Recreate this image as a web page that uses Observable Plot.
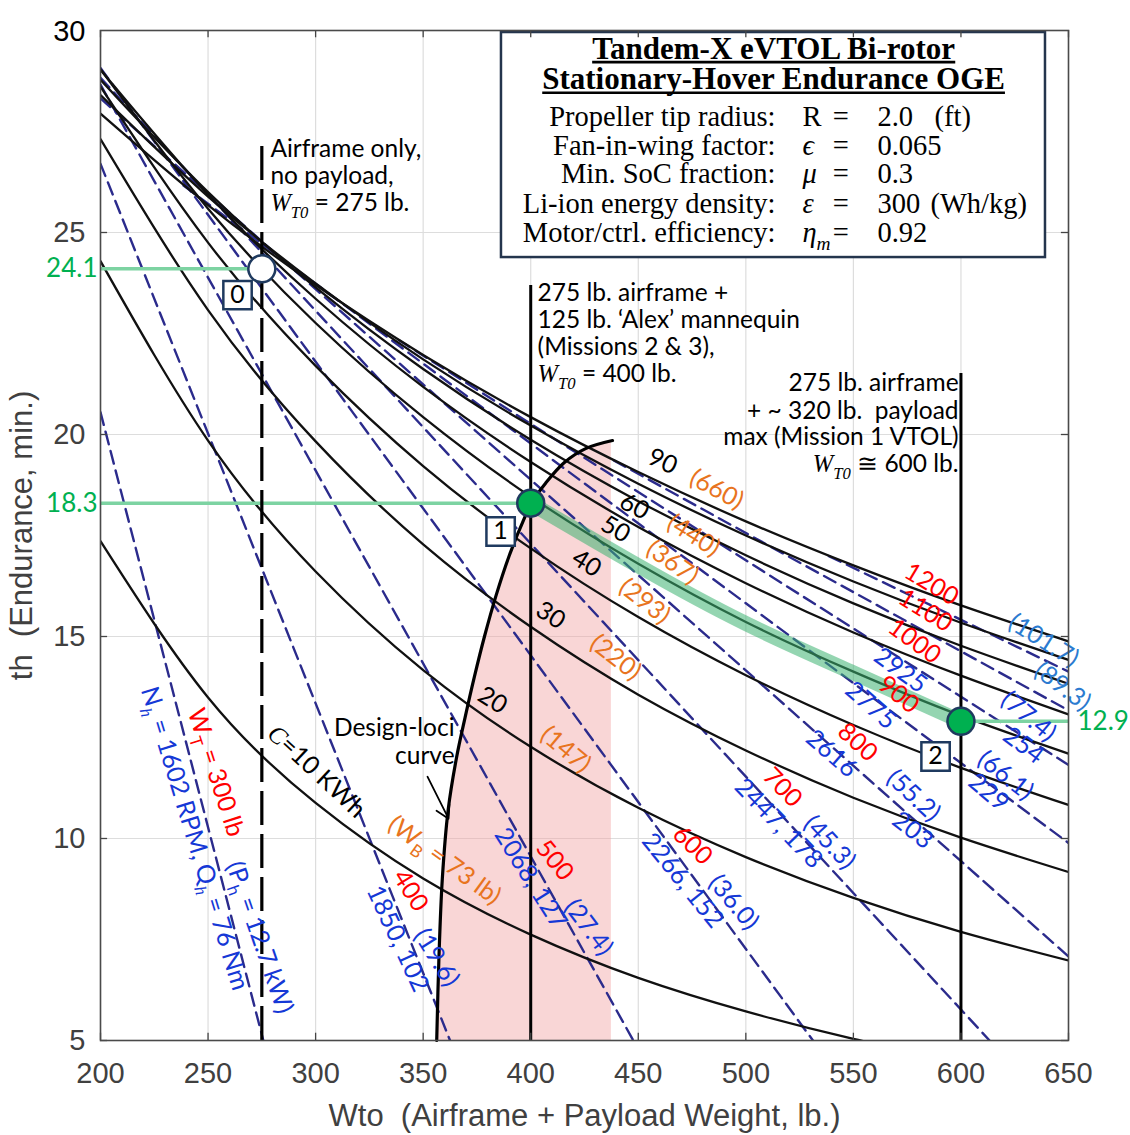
<!DOCTYPE html>
<html><head><meta charset="utf-8">
<script src="https://cdn.jsdelivr.net/npm/d3@7"></script>
<script src="https://cdn.jsdelivr.net/npm/@observablehq/plot@0.6"></script>
<style>
body{margin:0;background:#fff}
</style></head><body><div id="chart"></div>
<script>
// ---------------- DATA ----------------
const xTicks = [200,250,300,350,400,450,500,550,600,650];
const yTicks = [5,10,15,20,25];
const xGrid = [200,250,300,350,400,450,500,550,600,650];
// battery capacity curves (kWh) and battery weight (lb)
const capacityKWh = [10,20,30,40,50,60,70,80,90];
const batteryLb = [73,147,220,293,367,440,514,588,660];
const enduranceByC = [
  [17.36,13.49,10.88, 9.01, 7.62, 6.55, 5.72, 5.04, 4.49, 4.03],
  [24.29,19.85,16.61,14.17,12.27,10.76, 9.54, 8.53, 7.69, 6.98],
  [27.31,23.08,19.83,17.28,15.24,13.56,12.18,11.01,10.02, 9.17],
  [28.61,24.75,21.70,19.22,17.18,15.48,14.04,12.81,11.75,10.83],
  [29.04,25.59,22.76,20.43,18.46,16.80,15.36,14.13,13.04,12.10],
  [29.03,25.94,23.36,21.18,19.32,17.71,16.32,15.10,14.03,13.07],
  [28.78,26.00,23.64,21.62,19.87,18.35,17.01,15.82,14.77,13.83],
  [28.40,25.89,23.74,21.86,20.22,18.78,17.50,16.36,15.34,14.42],
  [27.94,25.68,23.70,21.97,20.43,19.07,17.85,16.76,15.77,14.88]
];
// constant total-weight lines (lb)
const wtValues = [300,400,500,600,700,800,900,1000,1100,1200];
const wtStartX = [200,200,200,200,200,200,238.6,338.6,438.6,538.6];
const wtStartT = [20.55,26.70,28.66,29.07,28.83,28.32,26.16,22.34,19.36,16.99];
const wtEndX   = [275.7,362.5,447.7,531.2,613.3,650,650,650,650,650];
const wtEndT   = [5,5,5,5,5,7.08,9.89,11.82,13.17,14.13];
const wtRpm    = [1602,1850,2068,2266,2447,2616,2775,2925,null,null];
const wtTorque = [76,102,127,152,178,203,229,254,null,null];
const wtPowerKW = [12.7,19.6,27.4,36.0,45.3,55.2,66.1,77.4,89.3,101.7];
// design points
const designW = [275,400,600];
const designT = [24.1,18.3,12.9];
// design-loci curve
const lociT = [5,7,9,10.7,12,13,14,15,16,17,18,18.3,18.8,19.3,19.65,19.85];
const lociX = [356.3,357.3,358.9,361.6,365.5,369.5,373.8,378.5,383.8,390,397.6,400.3,407,415.5,425.5,438];
const lociRightX = 437.5;
// highlighted 50 kWh segment between design points 1 and 2
const bandX = [400,450,500,550,600];
const bandT = [18.3,16.75,15.32,14.1,12.9];
// title box content
const titleLines = ["Tandem-X eVTOL Bi-rotor","Stationary-Hover Endurance OGE"];
const paramLabels = ["Propeller tip radius:","Fan-in-wing factor:","Min. SoC fraction:","Li-ion energy density:","Motor/ctrl. efficiency:"];
const paramSymbols = ["R","*ϵ*","*μ*","*ε*","*η*_[m]"];
const paramValues = ["2.0","0.065","0.3","300","0.92"];
const paramUnits = ["(ft)","","","(Wh/kg)",""];

// ---------------- LAYOUT (annotation placement) ----------------
const cLabelLayout = {
  90:{num:[461.3,19.33,25], wt:[486.4,18.64,28]},
  60:{num:[448.2,18.22,28], wt:[475.7,17.50,32]},
  50:{num:[439.4,17.65,30], wt:[465.9,16.83,35]},
  40:{num:[425.9,16.81,32], wt:[452.9,15.87,38]},
  30:{num:[409.2,15.52,33], wt:[439.4,14.48,38]},
  20:{num:[382.2,13.42,32], wt:[416.2,12.20,40]},
  10:{num:[300.4,11.66,43], wt:[359.9,9.46,36]}
};
const wtLabelLayout = {
  300:{red:[253.5,11.63,72], pw:[273.9,7.55,71], rpm:[243.7,10.0,73]},
  400:{red:[344.1,8.71,58], pw:[356.2,7.05,58], rpm:[338.1,7.52,65]},
  500:{red:[411.1,9.46,51], pw:[426.9,7.80,53], rpm:[399.9,9.01,58]},
  600:{red:[475.2,9.83,44], pw:[494.3,8.42,50], rpm:[470.6,8.96,51]},
  700:{red:[517.0,11.26,46], pw:[538.9,9.90,47], rpm:[515.2,10.37,46]},
  800:{red:[551.9,12.38,42], pw:[577.9,11.06,43], rpm:[539.8,12.10,41], tq:[577.5,10.20,38]},
  900:{red:[571.0,13.56,39], pw:[620.7,11.56,38], rpm:[558.0,13.29,41], tq:[612.8,11.14,40]},
  1000:{red:[578.4,14.88,36], pw:[631.4,13.02,40], rpm:[571.9,14.16,36], tq:[629.1,12.30,37]},
  1100:{red:[583.5,15.64,32], pw:[647.2,13.76,37]},
  1200:{red:[586.3,16.29,31], pw:[638.4,14.90,32]}
};
const RED="#ff0000", BLUE="#1538d6", LBLUE="#2b7bd0", ORANGE="#e8741e", GREEN="#00b050", NAVY="#1f3a5f";

// ---------------- BUILD ROWS ----------------
const cRows = capacityKWh.flatMap((c,i)=>xGrid.map((x,j)=>({C:c,x,t:enduranceByC[i][j]})));
const wtRows = wtValues.flatMap((w,i)=>[{W:w,x:wtStartX[i],t:wtStartT[i]},{W:w,x:wtEndX[i],t:wtEndT[i]}]);
const lociRows = lociT.map((t,i)=>({t,x:lociX[i]}));
const bandRows = bandX.map((x,i)=>({x,t:bandT[i]}));
const pts = designW.map((w,i)=>({i,x:w,t:designT[i]}));

const labels = [];
capacityKWh.forEach((c,i)=>{
  const L = cLabelLayout[c]; if(!L) return;
  labels.push({text: c===10 ? "*C*=10 KWh" : String(c), x:L.num[0], y:L.num[1], rot:L.num[2], color:"black"});
  labels.push({text: c===10 ? `(W_{B} = ${batteryLb[i]} lb)` : `(${batteryLb[i]})`, x:L.wt[0], y:L.wt[1], rot:L.wt[2], color:ORANGE});
});
wtValues.forEach((w,i)=>{
  const L = wtLabelLayout[w];
  labels.push({text: w===300 ? `W_{T} = ${w} lb` : String(w), x:L.red[0], y:L.red[1], rot:L.red[2], color:RED});
  labels.push({text: w===300 ? `(P_{h} = ${wtPowerKW[i].toFixed(1)} kW)` : `(${wtPowerKW[i].toFixed(1)})`, x:L.pw[0], y:L.pw[1], rot:L.pw[2], color: w>=1100 ? LBLUE : BLUE});
  if (L.rpm) {
    let t;
    if (w===300) t = `N_[h] = ${wtRpm[i]} RPM, Q_[h] = ${wtTorque[i]} Nm`;
    else if (L.tq) t = String(wtRpm[i]);
    else t = `${wtRpm[i]}, ${wtTorque[i]}`;
    labels.push({text:t, x:L.rpm[0], y:L.rpm[1], rot:L.rpm[2], color:BLUE});
  }
  if (L.tq) labels.push({text:String(wtTorque[i]), x:L.tq[0], y:L.tq[1], rot:L.tq[2], color:BLUE});
});

const blockA = ["Airframe only,","no payload,",`*W*_[T0] = ${designW[0]} lb.`];
const blockB = ["275 lb. airframe +","125 lb. ‘Alex’ mannequin","(Missions 2 & 3),",`*W*_[T0] = ${designW[1]} lb.`];
const blockC = ["275 lb. airframe","+ ~ 320 lb.\u00a0 payload","max (Mission 1 VTOL)",`*W*_[T0] ≅ ${designW[2]} lb.`];
const blockD = ["Design-loci","curve"];
const txt = (lines, x, ys) => lines.map((s,i)=>({text:s,x,y:ys[i]}));
const blocksStart = [
  ...txt(blockA, 279.0, [27.07,26.40,25.73]),
  ...txt(blockB, 403.2, [23.49,22.82,22.15,21.49])
];
const blocksEnd = [
  ...txt(blockC, 598.9, [21.26,20.59,19.93,19.26]),
  ...txt(blockD, 364.6, [12.72,12.03])
];
const paramY = [27.87,27.15,26.44,25.72,25.0];
const boxes = [{k:"0",x:263.7,y:23.45},{k:"1",x:386.0,y:17.60},{k:"2",x:588.2,y:12.03}];

const F = "Lato, 'Open Sans', sans-serif";
const SERIF = "'Liberation Serif', serif";
const SANS = "'Liberation Sans', Arial, sans-serif";
const plot = Plot.plot({
  width:1130, height:1135,
  marginLeft:100, marginRight:62, marginTop:30, marginBottom:95,
  x:{domain:[200,650]}, y:{domain:[5,30]},
  color:{type:"identity"},
  style:{background:"white", fontFamily:F, fontSize:"25px", overflow:"visible"},
  marks:[
    Plot.ruleX(xTicks,{stroke:"#dddddd", strokeWidth:1.2}),
    Plot.ruleY([...yTicks,30],{stroke:"#dddddd", strokeWidth:1.2}),
    Plot.areaX(lociRows,{y:"t", x1:"x", x2:lociRightX, fill:"#f2a3a3", fillOpacity:0.45, curve:"catmull-rom"}),
    Plot.line(wtRows,{x:"x", y:"t", z:"W", stroke:"#2b2b8c", strokeWidth:2.4, strokeDasharray:"13,7", clip:true}),
    Plot.line(cRows,{x:"x", y:"t", z:"C", stroke:"#111", strokeWidth:2.3, curve:"natural", clip:true}),
    Plot.line(bandRows,{x:"x", y:"t", stroke:"#3cb371", strokeOpacity:0.55, strokeWidth:15, curve:"natural"}),
    Plot.ruleY([{t:designT[0],a:200,b:designW[0]},{t:designT[1],a:200,b:designW[1]},{t:designT[2],a:designW[2],b:650}],
      {y:"t", x1:"a", x2:"b", stroke:"#7dd3a2", strokeWidth:3.5}),
    Plot.ruleX([designW[0]],{y1:5, y2:27.33, stroke:"black", strokeWidth:3.2, strokeDasharray:"34,9"}),
    Plot.ruleX([designW[1]],{y1:5, y2:23.69, stroke:"black", strokeWidth:3}),
    Plot.ruleX([designW[2]],{y1:5, y2:21.51, stroke:"black", strokeWidth:3}),
    Plot.line(lociRows,{x:"x", y:"t", stroke:"black", strokeWidth:3.2, curve:"catmull-rom"}),
    Plot.arrow([0],{x1:352.0, y1:11.53, x2:361.8, y2:10.49, stroke:"black", strokeWidth:1.8, headLength:12}),
    Plot.dot(pts,{x:"x", y:"t", r:13.5, fill:d=>d.i===0?"white":GREEN, stroke:NAVY, strokeWidth:2.5}),
    Plot.dot(boxes,{x:"x", y:"y", symbol:"square", r:16, fill:"white", stroke:NAVY, strokeWidth:2.5}),
    Plot.text(boxes,{x:"x", y:"y", text:"k", fontSize:25, fill:"black", fontFamily:F}),
    // green value labels
    Plot.text(pts.slice(0,2),{x:200, y:"t", text:d=>d.t.toFixed(1), textAnchor:"end", dx:-3, fill:GREEN, fontSize:26, fontFamily:F}),
    Plot.text(pts.slice(2),{x:650, y:"t", text:d=>d.t.toFixed(1), textAnchor:"start", dx:9, fill:GREEN, fontSize:26, fontFamily:F}),
    // curve labels
    Plot.text(labels,{x:"x", y:"y", text:"text", rotate:"rot", fill:"color", fontSize:25, fontFamily:F}),
    // annotation blocks
    Plot.text(blocksStart,{x:"x", y:"y", text:"text", textAnchor:"start", fill:"black", fontSize:24.5, fontFamily:F}),
    Plot.text(blocksEnd,{x:"x", y:"y", text:"text", textAnchor:"end", fill:"black", fontSize:24.5, fontFamily:F}),
    // title box
    Plot.rect([0],{x1:386.4, x2:639.3, y1:24.38, y2:29.95, fill:"white", stroke:"#24354d", strokeWidth:2.5}),
    Plot.text(titleLines,{x:512.9, y:(d,i)=>[29.55,28.79][i], text:d=>d, fontFamily:SERIF, fontWeight:"bold", fontSize:31, fill:"black"}),
    Plot.text(paramLabels,{x:513.8, y:(d,i)=>paramY[i], text:d=>d, textAnchor:"end", fontFamily:SERIF, fontSize:28.5, fill:"black"}),
    Plot.text(paramSymbols,{x:526.3, y:(d,i)=>paramY[i], text:d=>d, textAnchor:"start", fontFamily:SERIF, fontSize:28.5, fill:"black"}),
    Plot.text(paramSymbols,{x:544.1, y:(d,i)=>paramY[i], text:()=>"=", fontFamily:SERIF, fontSize:28.5, fill:"black"}),
    Plot.text(paramValues,{x:561.2, y:(d,i)=>paramY[i], text:d=>d, textAnchor:"start", fontFamily:SERIF, fontSize:28.5, fill:"black"}),
    Plot.text(paramUnits,{x:(d,i)=>i===0?587.7:585.8, y:(d,i)=>paramY[i], text:d=>d, textAnchor:"start", fontFamily:SERIF, fontSize:28.5, fill:"black"}),
    // ticks (inward)
    Plot.ruleX(xTicks,{y1:5, y2:5.18, stroke:"#444", strokeWidth:1.3}),
    Plot.ruleX(xTicks,{y1:29.82, y2:30, stroke:"#444", strokeWidth:1.3}),
    Plot.ruleY(yTicks,{x1:200, x2:203.3, stroke:"#444", strokeWidth:1.3}),
    Plot.ruleY(yTicks,{x1:646.7, x2:650, stroke:"#444", strokeWidth:1.3}),
    Plot.frame({stroke:"#4a4a4a", strokeWidth:1.6}),
    Plot.axisX({ticks:xTicks, tickSize:0, tickPadding:22, label:null, fill:"#404040", fontSize:29, fontFamily:SANS}),
    Plot.axisY({ticks:yTicks, tickSize:0, tickPadding:15, label:null, fill:"#404040", fontSize:29, fontFamily:SANS}),
    Plot.text(["30"],{frameAnchor:"top-left", dx:-15, dy:-10, textAnchor:"end", fill:"black", fontSize:29, fontFamily:SANS}),
    Plot.text(["Wto\u00a0\u00a0(Airframe + Payload Weight, lb.)"],{frameAnchor:"bottom", dy:85, textAnchor:"middle", fill:"#404040", fontSize:31, fontFamily:SANS}),
    Plot.text(["th\u00a0 (Endurance, min.)"],{frameAnchor:"left", dx:-78, rotate:-90, textAnchor:"middle", fill:"#404040", fontSize:31, fontFamily:SANS})
  ]
});
document.getElementById("chart").appendChild(plot);

// rich text: *x* serif italic, _{x} subscript, _[x] italic subscript
function richify(root){
  const re = /\*([^*]+)\*|_\{([^}]*)\}|_\[([^\]]*)\]|([^*_]+|_)/g;
  root.querySelectorAll("text").forEach(el=>{
    if (el.querySelector("tspan")) return;
    const s = el.textContent;
    if (!/\*|_\{|_\[/.test(s)) return;
    const fs = parseFloat(getComputedStyle(el).fontSize) || 24;
    el.textContent = "";
    let cur = 0, m;
    re.lastIndex = 0;
    while ((m = re.exec(s))) {
      const ts = document.createElementNS("http://www.w3.org/2000/svg","tspan");
      let target = 0, t;
      if (m[1] != null) { t = m[1]; ts.setAttribute("font-style","italic"); ts.setAttribute("font-family",SERIF); }
      else if (m[2] != null) { t = m[2]; target = 0.28*fs; ts.setAttribute("font-size", 0.68*fs); }
      else if (m[3] != null) { t = m[3]; target = 0.28*fs; ts.setAttribute("font-size", 0.68*fs); ts.setAttribute("font-style","italic"); ts.setAttribute("font-family",SERIF); }
      else t = m[4];
      const dy = target - cur;
      if (dy) ts.setAttribute("dy", dy);
      cur = target;
      ts.textContent = t;
      el.appendChild(ts);
    }
  });
}
richify(plot);

// underline the title lines
[...plot.querySelectorAll("text")].filter(t=>titleLines.includes(t.textContent)).forEach(t=>{
  const b = t.getBBox();
  const ln = document.createElementNS("http://www.w3.org/2000/svg","line");
  const yy = b.y + b.height*0.9;
  ln.setAttribute("x1", b.x); ln.setAttribute("x2", b.x + b.width);
  ln.setAttribute("y1", yy); ln.setAttribute("y2", yy);
  ln.setAttribute("stroke","black"); ln.setAttribute("stroke-width","2.6");
  if (t.getAttribute("transform")) ln.setAttribute("transform", t.getAttribute("transform"));
  t.parentNode.appendChild(ln);
});
</script></body></html>
